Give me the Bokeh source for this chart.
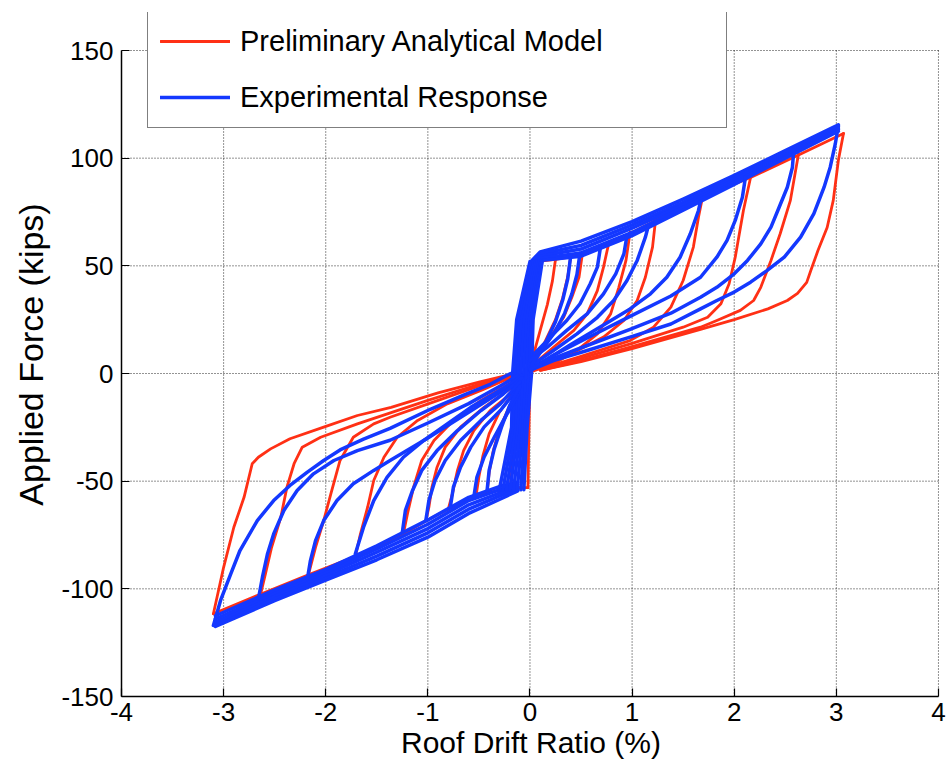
from bokeh.plotting import figure
from bokeh.models import Range1d, FixedTicker, Legend, LegendItem, Title
from bokeh.embed import file_html
from bokeh.resources import INLINE

# ---------------- axis ticks ----------------
x_ticks = [-4, -3, -2, -1, 0, 1, 2, 3, 4]
x_tick_labels = ["-4", "-3", "-2", "-1", "0", "1", "2", "3", "4"]
y_ticks = [-150, -100, -50, 0, 50, 100, 150]
y_tick_labels = ["-150", "-100", "-50", "0", "50", "100", "150"]

# ---------------- Preliminary Analytical Model (red) ----------------
red_backbone_pos_drift = [0.06, 0.25, 0.5, 0.77, 1.0, 1.23, 1.69, 2.16, 2.63, 3.07]
red_backbone_pos_force = [52, 53, 55, 60, 65.5, 71, 82, 91, 101.5, 111.5]
red_backbone_neg_drift = [-0.02, -0.19, -0.42, -0.53, -0.80, -1.02, -1.24, -1.71, -2.17, -2.64, -3.10]
red_backbone_neg_force = [-53, -53, -55.5, -57.5, -63, -68.5, -74.5, -85, -93.5, -102.5, -111.6]
red_elastic_drift = [-0.02, 0.0, 0.06]
red_elastic_force = [-53, 0, 52]

red_unload_pos_drift = [
    [3.07, 3.02, 2.97, 2.91, 2.82, 2.75, 2.71, 2.62, 2.52, 2.33, 2.00, 1.67, 1.00, 0.50, 0.10],
    [2.63, 2.55, 2.45, 2.36, 2.26, 2.19, 2.06, 1.83, 1.67, 1.00, 0.50, 0.10],
    [2.16, 2.09, 2.01, 1.95, 1.87, 1.74, 1.50, 1.00, 0.50, 0.10],
    [1.69, 1.65, 1.60, 1.50, 1.38, 1.21, 0.98, 0.50, 0.10],
    [1.23, 1.20, 1.13, 1.05, 0.92, 0.72, 0.40, 0.10],
    [0.98, 0.94, 0.87, 0.79, 0.66, 0.46, 0.23, 0.02],
    [0.77, 0.72, 0.66, 0.56, 0.43, 0.23, 0.04],
    [0.51, 0.48, 0.41, 0.33, 0.20, 0.04],
    [0.40, 0.37, 0.32, 0.25, 0.15, 0.05],
    [0.25, 0.22, 0.17, 0.10, 0.03],
]
red_unload_pos_force = [
    [111.5, 99.0, 80.4, 67.8, 57.1, 47.8, 42.3, 37.2, 33.9, 30.0, 25.0, 20.5, 11.5, 5.5, 1.5],
    [102, 80.4, 64.9, 52.5, 40, 33.9, 29.3, 24.6, 21.5, 12.5, 6, 1.5],
    [91, 75.7, 54, 41.7, 32.4, 26.1, 21.5, 14, 7, 2],
    [82, 72.6, 58.7, 43.2, 30.8, 21.5, 15.3, 8, 2],
    [71.4, 58.7, 44.7, 33.9, 24.6, 16.9, 9.1, 2.9],
    [65.6, 52.5, 40, 27.7, 18.4, 10.7, 4.5, 1],
    [60.2, 49.4, 38.5, 27.7, 20, 12.2, 4.5],
    [54.5, 44.7, 35.4, 26.1, 16.9, 7.6],
    [54.5, 45, 35, 25, 15, 6],
    [53, 43, 32, 20, 8],
]
red_unload_neg_drift = [
    [-3.10, -3.00, -2.90, -2.80, -2.72, -2.66, -2.54, -2.35, -2.02, -1.69, -1.36, -0.90, -0.50, -0.15],
    [-2.64, -2.59, -2.53, -2.44, -2.38, -2.31, -2.23, -2.05, -1.69, -1.00, -0.50, -0.10],
    [-2.17, -2.10, -2.02, -1.95, -1.86, -1.73, -1.53, -1.37, -0.90, -0.45, -0.05],
    [-1.71, -1.66, -1.59, -1.53, -1.43, -1.30, -1.10, -0.81, -0.48, -0.26, -0.05],
    [-1.24, -1.20, -1.14, -1.06, -0.94, -0.75, -0.48, -0.26, -0.03],
    [-1.02, -0.99, -0.96, -0.91, -0.83, -0.68, -0.45, -0.22, 0.0],
    [-0.80, -0.76, -0.71, -0.65, -0.55, -0.39, -0.19, 0.0],
    [-0.53, -0.50, -0.46, -0.40, -0.30, -0.15, 0.0],
    [-0.42, -0.40, -0.36, -0.30, -0.20, -0.08],
    [-0.19, -0.17, -0.13, -0.07, 0.0],
]
red_unload_neg_force = [
    [-111.6, -90, -71.4, -57.5, -41.9, -38.9, -35, -30.3, -24.9, -19.5, -15.7, -9, -4, 0],
    [-103, -93, -80.7, -66.8, -52.8, -41.9, -34.2, -29.6, -23.4, -12.5, -5, 0],
    [-93.5, -80.7, -68.3, -55.9, -40.4, -29.6, -23.4, -20.3, -12.5, -5, 0],
    [-85, -74.5, -62.1, -49.7, -38.9, -29.6, -21.8, -14.1, -7.9, -3.3, 0],
    [-74.5, -65.2, -52.8, -40.4, -31.1, -21.8, -12.5, -6.4, 0],
    [-68.5, -62.1, -52.8, -43.5, -34.2, -24.9, -15.7, -7.9, 0],
    [-63, -55.9, -45, -35.8, -26.5, -17.2, -9.4, -1],
    [-57.5, -48, -38, -28, -18, -8, -1],
    [-55.5, -46, -36, -26, -15, -6],
    [-53, -40, -28, -15, -3],
]

# ---------------- Experimental Response (blue) ----------------
blue_backbone_pos_drift = [0.02, 0.10, 0.50, 1.00, 1.50, 2.00, 2.50, 3.02]
blue_backbone_pos_force = [
    [52.5, 56.5, 61.5, 70.5, 81.0, 92.0, 103.5, 115.5],
    [52.0, 55.5, 59.5, 69.0, 79.5, 90.8, 102.5, 114.7],
    [51.5, 54.5, 57.8, 67.5, 78.2, 89.8, 101.6, 114.0],
    [51.0, 53.5, 56.0, 65.5, 77.0, 88.8, 100.8, 113.3],
    [50.5, 52.5, 54.5, 64.0, 75.8, 87.8, 100.0, 112.5],
]
blue_backbone_neg_drift = [-0.12, -0.30, -0.60, -1.00, -1.50, -2.00, -2.50, -3.08]
blue_backbone_neg_force = [
    [-54.5, -58.5, -65.0, -76.0, -86.5, -96.0, -105.5, -117.5],
    [-53.5, -57.0, -63.0, -74.0, -84.8, -94.8, -104.2, -116.5],
    [-52.5, -55.5, -61.0, -72.0, -83.0, -93.5, -103.0, -115.5],
    [-51.5, -54.0, -59.0, -70.0, -81.5, -92.2, -101.8, -114.0],
    [-50.5, -52.5, -57.5, -68.0, -80.0, -91.0, -100.5, -112.5],
]
blue_elastic_force = [-54, -25, 0, 25, 52]
blue_elastic_drift = [
    [-0.300, -0.180, -0.170, -0.130, 0.000],
    [-0.265, -0.158, -0.143, -0.105, 0.018],
    [-0.230, -0.136, -0.116, -0.080, 0.036],
    [-0.195, -0.114, -0.089, -0.055, 0.054],
    [-0.160, -0.092, -0.062, -0.030, 0.072],
    [-0.125, -0.070, -0.035, -0.005, 0.090],
    [-0.090, -0.048, -0.008, 0.015, 0.106],
    [-0.060, -0.028, 0.015, 0.030, 0.120],
]
blue_unload_pos_drift = [
    [3.02, 2.99, 2.94, 2.88, 2.78, 2.65, 2.49, 2.32, 2.16, 2.00, 1.83, 1.67, 1.38, 0.98, 0.56, 0.23, 0.0],
    [2.58, 2.57, 2.52, 2.44, 2.36, 2.26, 2.13, 2.00, 1.83, 1.67, 1.38, 0.98, 0.56, 0.23, 0.0],
    [2.11, 2.08, 2.01, 1.93, 1.83, 1.67, 1.38, 0.98, 0.56, 0.23, 0.0],
    [1.67, 1.65, 1.57, 1.47, 1.34, 1.18, 0.98, 0.70, 0.40, 0.15, 0.0],
    [1.16, 1.13, 1.05, 0.95, 0.82, 0.66, 0.46, 0.23, 0.04],
    [0.95, 0.92, 0.84, 0.72, 0.56, 0.36, 0.17, 0.0],
    [0.69, 0.66, 0.59, 0.49, 0.36, 0.20, 0.04],
    [0.49, 0.46, 0.41, 0.34, 0.24, 0.12, 0.02],
    [0.40, 0.37, 0.32, 0.25, 0.15, 0.03],
]
blue_unload_pos_force = [
    [115.2, 106.7, 95.8, 86.5, 74.2, 63.3, 54, 47.8, 42.4, 37.8, 33.9, 30, 23, 16.9, 10.7, 6, 1.4],
    [102, 95.8, 86.5, 77.2, 68, 60.2, 52.5, 46.3, 40, 35.4, 28, 20.5, 13, 7, 1.5],
    [91.2, 81.9, 71.1, 61.8, 54, 44.7, 36, 26.5, 16.5, 8.5, 2],
    [80, 75.7, 64.9, 54, 44.7, 37, 30, 22, 13.5, 6, 2],
    [68.7, 63.3, 52.5, 43.2, 33.9, 26.1, 18.4, 10.7, 4.5],
    [64.1, 55.6, 46.3, 37, 27.7, 20, 12.2, 6],
    [58.5, 49.4, 41.7, 32.4, 24.6, 16.9, 9.1],
    [56, 46, 37, 28, 19, 11, 4],
    [55, 44, 34, 24, 14, 5],
]
blue_unload_neg_drift = [
    [-3.10, -3.03, -2.93, -2.84, -2.67, -2.51, -2.35, -2.18, -2.02, -1.86, -1.63, -1.37, -0.97, -0.65, -0.39, -0.19],
    [-2.66, -2.62, -2.57, -2.51, -2.41, -2.28, -2.12, -1.92, -1.69, -1.37, -1.00, -0.60, -0.30, -0.12],
    [-2.18, -2.15, -2.10, -2.02, -1.89, -1.73, -1.53, -1.37, -1.00, -0.60, -0.30, -0.10],
    [-1.71, -1.63, -1.53, -1.40, -1.24, -1.04, -0.81, -0.58, -0.35, -0.19, -0.08],
    [-1.25, -1.22, -1.15, -1.06, -0.91, -0.71, -0.48, -0.26, -0.08],
    [-1.02, -0.99, -0.93, -0.83, -0.68, -0.48, -0.29, -0.10],
    [-0.78, -0.75, -0.68, -0.58, -0.45, -0.29, -0.12],
    [-0.55, -0.52, -0.45, -0.35, -0.26, -0.12],
    [-0.42, -0.40, -0.35, -0.28, -0.20, -0.10],
]
blue_unload_neg_force = [
    [-117, -105.4, -93, -82.2, -68.3, -59, -52, -45.8, -40.4, -35.5, -30.5, -25.5, -16.5, -10, -5, 0],
    [-104.7, -94.6, -83.7, -74.5, -63.6, -54.3, -46.6, -40.4, -35.8, -31, -23, -14, -6, -1],
    [-95.4, -86.9, -77.6, -68.3, -59, -51.2, -45, -40.4, -30, -18, -9, -2],
    [-83.7, -71.4, -59, -48.2, -38.9, -31.1, -23.4, -15.7, -9.4, -4.7, -1],
    [-73.7, -63.6, -54.3, -45, -35.8, -26.5, -17.2, -9.4, -2],
    [-68.3, -59, -49.7, -40.4, -31.1, -21.8, -14.1, -4],
    [-62.1, -52.8, -43.5, -34.2, -24.9, -17.2, -7],
    [-57.4, -48.2, -38.9, -29.6, -21.8, -10],
    [-54.3, -45, -35, -25, -15, -6],
]

# ---------------- assemble paths ----------------
red_xs = [red_backbone_pos_drift, red_backbone_neg_drift, red_elastic_drift] + red_unload_pos_drift + red_unload_neg_drift
red_ys = [red_backbone_pos_force, red_backbone_neg_force, red_elastic_force] + red_unload_pos_force + red_unload_neg_force

blue_xs = ([blue_backbone_pos_drift] * len(blue_backbone_pos_force)
           + [blue_backbone_neg_drift] * len(blue_backbone_neg_force)
           + blue_elastic_drift + blue_unload_pos_drift + blue_unload_neg_drift)
blue_ys = (blue_backbone_pos_force + blue_backbone_neg_force
           + [blue_elastic_force] * len(blue_elastic_drift)
           + blue_unload_pos_force + blue_unload_neg_force)

RED = "#ff3015"
BLUE = "#1438ff"
FONT = "Liberation Sans"

X_MIN, X_MAX = x_ticks[0], x_ticks[-1]
Y_MIN, Y_MAX = y_ticks[0], y_ticks[-1]
# extra room above the axes so the legend (which sits above the top grid line) is not clipped
Y_TOP = Y_MAX + 38 / (646 / (Y_MAX - Y_MIN))

p = figure(width=949, height=765, x_range=Range1d(X_MIN, X_MAX + 0.02), y_range=Range1d(Y_MIN, Y_TOP),
           output_backend="svg", toolbar_location=None,
           min_border_left=121, min_border_right=9, min_border_top=12, min_border_bottom=69)
p.outline_line_color = None
p.background_fill_color = "white"
p.border_fill_color = "white"
p.xgrid.visible = False
p.ygrid.visible = False

# dotted grid drawn only inside the axes box
grid_kw = dict(line_color="black", line_dash="1 2", line_width=1, line_alpha=0.85)
p.segment(x0=x_ticks[1:], y0=[Y_MIN] * (len(x_ticks) - 1), x1=x_ticks[1:], y1=[Y_MAX] * (len(x_ticks) - 1), **grid_kw)
p.segment(x0=[X_MIN] * (len(y_ticks) - 1), y0=y_ticks[1:], x1=[X_MAX] * (len(y_ticks) - 1), y1=y_ticks[1:], **grid_kw)

r_red = p.multi_line(red_xs, red_ys, line_color=RED, line_width=2.8, line_join="round", line_cap="round")
r_blue = p.multi_line(blue_xs, blue_ys, line_color=BLUE, line_width=3.5, line_join="round", line_cap="round")

# axes
p.xaxis.ticker = FixedTicker(ticks=x_ticks)
p.yaxis.ticker = FixedTicker(ticks=y_ticks)
p.xaxis.major_label_overrides = {float(t): s for t, s in zip(x_ticks, x_tick_labels)}
p.yaxis.major_label_overrides = {float(t): s for t, s in zip(y_ticks, y_tick_labels)}
p.xaxis.bounds = (X_MIN, X_MAX)
p.yaxis.bounds = (Y_MIN, Y_MAX)
for ax in (p.xaxis, p.yaxis):
    ax.axis_line_color = "black"
    ax.axis_line_width = 1.5
    ax.major_tick_line_color = "black"
    ax.major_tick_line_width = 1.2
    ax.major_tick_in = 8
    ax.major_tick_out = 0
    ax.minor_tick_line_color = None
    ax.major_label_text_font = FONT
    ax.major_label_text_font_size = "26px"
    ax.major_label_text_color = "black"
    ax.axis_label_text_font = FONT
    ax.axis_label_text_font_size = "30px"
    ax.axis_label_text_font_style = "normal"
    ax.axis_label_text_color = "black"
p.xaxis.axis_label = "Roof Drift Ratio (%)"
p.xaxis.major_label_standoff = 6
p.yaxis.major_label_standoff = 8
p.xaxis.axis_label_standoff = 2

# y label as a left-side title so it can be shifted along the axis like the reference
ylab = Title(text="Applied Force (kips)", align="center", offset=14, standoff=17,
             text_font=FONT, text_font_size="34px", text_font_style="normal", text_color="black")
p.add_layout(ylab, "left")

legend = Legend(items=[LegendItem(label="Preliminary Analytical Model", renderers=[r_red]),
                       LegendItem(label="Experimental Response", renderers=[r_blue])],
                location=(26, 568), orientation="vertical",
                padding=12, spacing=20, margin=0,
                label_height=36, glyph_height=36, glyph_width=70,
                label_standoff=10, label_width=474,
                label_text_font=FONT, label_text_font_size="29px", label_text_color="black",
                border_line_color="black", border_line_width=1.5,
                background_fill_color="white", background_fill_alpha=1.0)
p.add_layout(legend)

open("out.html", "w").write(file_html(p, INLINE))
